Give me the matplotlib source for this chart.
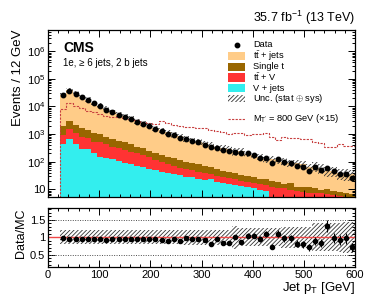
import numpy as np
import matplotlib
matplotlib.use("Agg")
import matplotlib.pyplot as plt
from matplotlib.patches import Rectangle
from matplotlib.lines import Line2D
from matplotlib.ticker import MultipleLocator, LogLocator, NullFormatter, FuncFormatter, FixedLocator

plt.rcParams['font.family'] = ['Liberation Sans', 'DejaVu Sans']
plt.rcParams['mathtext.fontset'] = 'custom'
plt.rcParams['mathtext.rm'] = 'Liberation Sans'
plt.rcParams['mathtext.it'] = 'Liberation Sans:italic'
plt.rcParams['mathtext.bf'] = 'Liberation Sans:bold'
plt.rcParams['hatch.linewidth'] = 0.6

# ---------------- data ----------------
bin_edges = np.arange(24, 601, 12)

data = [26303, 37154, 27542, 21380, 16596, 12882, 10233, 7586, 6166, 5012,
        4169, 3467, 2818, 2344, 1905, 1585, 1318, 1023, 912, 741,
        661, 562, 501, 417, 331, 324, 263, 245, 234, 209,
        200, 178, 141, 132, 91, 123, 98, 87, 72, 65,
        45, 62, 50, 60, 45, 35, 35, 25]

ttbar_jets = [24555, 35717, 27160, 20884, 16249, 12638, 9792, 7531, 5759, 4713,
              3885, 3222, 2585, 2189, 1777, 1446, 1242, 1004, 817, 708,
              581, 493, 442, 388, 346, 285, 274, 255, 194, 210,
              162, 144, 127, 98, 106, 93, 86, 74, 76, 69,
              52, 58, 50, 35, 37, 30, 29, 29]

single_t = [1094, 1492, 1067, 855, 701, 537, 477, 378, 314, 258,
            237, 197, 150, 135, 105, 87, 80, 65, 63, 54,
            47, 42, 36.5, 32, 28, 23, 18.3, 18.5, 15, 12.6,
            11.1, 10.5, 7.5, 8.5, 8, 8, 4.1, 7.1, 3.4, 4.2,
            4.3, 3.7, 2.2, 3.2, 2.7, 2.6, 2.0, 1.4]

ttV = [493, 829, 637, 478, 417, 328, 351, 294, 228, 199,
       179, 149, 130, 104, 91, 68, 51.5, 42, 34.2, 28,
       24.3, 22.8, 20.5, 16.3, 12, 11.1, 11.3, 9.5, 8.7, 7.2,
       6.5, 5.6, 5.7, 5.8, 7.9, 6.9, 6.4, 6.4, 5.5, 5.7,
       4.5, 5.2, 4.7, 4.8, 4.7, 3.6, 3.7, 4.0]

V_jets = [427, 664, 436, 288, 288, 201, 152, 133, 122, 106,
          87, 81, 70, 66, 54, 50, 43.5, 38, 35.8, 33,
          28.7, 27.2, 23, 21.7, 23, 18.9, 17.4, 15.5, 14.3, 13.2,
          12.4, 10.9, 9.8, 8.7, 4.5, 4, 4.5, 3, 3.5, 2.5,
          3, 2, 2.5, 2, 1.5, 2, 1.5, 1.2]

signal_x15 = [7943, 13490, 10471, 8511, 7079, 6457, 5370, 4571, 4266, 4074,
              3715, 3548, 3236, 2818, 2570, 2344, 2951, 2512, 2138, 1995,
              1862, 1778, 1660, 1622, 1445, 1259, 1230, 1047, 1122, 1072,
              955, 1000, 1000, 1122, 813, 631, 759, 708, 708, 646,
              646, 501, 490, 355, 355, 437, 380, 363]

unc_rel = [0.20, 0.20, 0.20, 0.20, 0.20, 0.20, 0.20, 0.20, 0.20, 0.20,
           0.21, 0.21, 0.21, 0.21, 0.21, 0.21, 0.21, 0.21, 0.21, 0.21,
           0.22, 0.22, 0.22, 0.22, 0.22, 0.22, 0.22, 0.22, 0.33, 0.25,
           0.25, 0.25, 0.25, 0.25, 0.25, 0.25, 0.30, 0.30, 0.30, 0.30,
           0.30, 0.40, 0.40, 0.40, 0.40, 0.42, 0.45, 0.45]

y_ticks_main = [10, 1e2, 1e3, 1e4, 1e5, 1e6]
y_ticks_ratio = [0.5, 1.0, 1.5]
x_ticks = [0, 100, 200, 300, 400, 500, 600]

legend_labels = ['Data', r't$\bar{\mathrm{t}}$ + jets', 'Single t', r't$\bar{\mathrm{t}}$ + V',
                 'V + jets', r'Unc. (stat $\oplus$ sys)',
                 r'M$_{\mathrm{T^{\prime}}}$ = 800 GeV ($\times$15)']

col_tt = '#FFCC88'
col_st = '#996600'
col_ttv = '#FF3333'
col_vj = '#33EEEE'
col_sig = '#C84040'
hatch_col = '0.2'
HATCH = '////////'
sig_ls = (0, (2.0, 1.2))

# ---------------- figure ----------------
W, H = 374, 296
fig = plt.figure(figsize=(W/100, H/100), dpi=100)
ax = fig.add_axes([48/W, 1-197/H, 307/W, 167/H])
ax2 = fig.add_axes([48/W, 1-267/H, 307/W, 59/H])

edges = np.asarray(bin_edges, dtype=float)
centers = 0.5*(edges[:-1]+edges[1:])
d = np.asarray(data, dtype=float)
c1 = np.asarray(V_jets, dtype=float)
c2 = c1 + np.asarray(ttV, dtype=float)
c3 = c2 + np.asarray(single_t, dtype=float)
c4 = c3 + np.asarray(ttbar_jets, dtype=float)
unc = np.asarray(unc_rel)

ax.stairs(c4, edges, baseline=c3, fill=True, color=col_tt, lw=0)
ax.stairs(c3, edges, baseline=c2, fill=True, color=col_st, lw=0)
ax.stairs(c2, edges, baseline=c1, fill=True, color=col_ttv, lw=0)
ax.stairs(c1, edges, baseline=1e-3, fill=True, color=col_vj, lw=0)

ext = lambda a: np.append(a, a[-1])
ax.fill_between(edges, ext(c4*(1-unc)), ext(c4*(1+unc)), step='post',
                facecolor='none', edgecolor=hatch_col, hatch=HATCH, lw=0)

ax.stairs(signal_x15, edges, baseline=1e-3, color=col_sig, lw=0.8, linestyle=sig_ls)

ax.errorbar(centers, d, yerr=np.sqrt(d), fmt='o', color='black', ms=3.2,
            elinewidth=0.8, capsize=0)

ax.set_yscale('log')
ax.set_ylim(5.26, 5.9e6)
ax.set_xlim(0, 600)
ax.yaxis.set_major_locator(FixedLocator(y_ticks_main))
ax.yaxis.set_minor_locator(LogLocator(base=10, subs=np.arange(2, 10), numticks=100))
ax.yaxis.set_minor_formatter(NullFormatter())

def fmt_log(v, pos):
    e = int(round(np.log10(v)))
    return '10' if e == 1 else r'$10^{%d}$' % e
ax.yaxis.set_major_formatter(FuncFormatter(fmt_log))
ax.xaxis.set_major_locator(FixedLocator(x_ticks))
ax.xaxis.set_minor_locator(MultipleLocator(20))
ax.tick_params(axis='x', labelbottom=False)

for a in (ax, ax2):
    a.tick_params(which='both', direction='in', top=True, right=True, width=0.7)
    a.tick_params(which='major', length=5, labelsize=8, pad=2)
    a.tick_params(which='minor', length=2.5)
    for s in a.spines.values():
        s.set_linewidth(0.9)

ax.set_ylabel('Events / 12 GeV', fontsize=9.5, loc='top', labelpad=2)

# ratio
tot = c4
ratio = d/tot
rerr = np.sqrt(d)/tot
ax2.fill_between(edges, ext(1-unc), ext(1+unc), step='post',
                 facecolor='none', edgecolor=hatch_col, hatch=HATCH, lw=0)
ax2.axhline(1.0, color='#F04848', lw=1.0)
for yv in (0.5, 1.5):
    ax2.axhline(yv, color='0.3', lw=0.7, ls=(0, (1, 1.5)))
ax2.errorbar(centers, ratio, yerr=rerr, fmt='o', color='black', ms=3,
             elinewidth=0.8, capsize=0)
ax2.set_xlim(0, 600)
ax2.set_ylim(0.14, 1.84)
ax2.yaxis.set_major_locator(FixedLocator(y_ticks_ratio))
ax2.yaxis.set_major_formatter(FuncFormatter(lambda v, p: '%g' % v))
ax2.yaxis.set_minor_locator(MultipleLocator(0.1))
ax2.xaxis.set_major_locator(FixedLocator(x_ticks))
ax2.xaxis.set_minor_locator(MultipleLocator(20))
ax2.set_ylabel('Data/MC', fontsize=9, loc='top', labelpad=2)
ax2.set_xlabel(r'Jet p$_{\mathrm{T}}$ [GeV]', fontsize=9.5, loc='right', labelpad=0)

# texts
fig.text(355/W, 1-22/H, r'35.7 fb$^{-1}$ (13 TeV)', ha='right', va='baseline', fontsize=9)
fig.text(63/W, 1-52/H, 'CMS', ha='left', va='baseline', fontsize=10, fontweight='bold')
fig.text(63/W, 1-66/H, '1e, \u2265 6 jets, 2 b jets', ha='left', va='baseline', fontsize=7)

# legend (manual)
kx0, kx1, tx = 228/W, 245/W, 253/W
rows_y = [45, 56, 66.7, 77.5, 88, 98.3, 119]
fills = [None, col_tt, col_st, col_ttv, col_vj, 'hatch', None]
for i, (yy, lab) in enumerate(zip(rows_y, legend_labels)):
    yf = 1 - yy/H
    if i == 0:
        fig.add_artist(Line2D([(kx0+kx1)/2], [yf], marker='o', color='black', ms=3.2,
                              transform=fig.transFigure))
    elif i == 6:
        fig.add_artist(Line2D([kx0, kx1], [yf, yf], color=col_sig, lw=0.8, ls=sig_ls,
                              transform=fig.transFigure))
    elif fills[i] == 'hatch':
        fig.add_artist(Rectangle((kx0, yf-3.5/H), kx1-kx0, 7/H, facecolor='none',
                                 edgecolor=hatch_col, hatch=HATCH, lw=0,
                                 transform=fig.transFigure))
    else:
        fig.add_artist(Rectangle((kx0, yf-4/H), kx1-kx0, 8/H, facecolor=fills[i],
                                 edgecolor='none', transform=fig.transFigure))
    fig.text(tx, yf, lab, ha='left', va='center', fontsize=6.7)

fig.savefig('out.png', dpi=100)
